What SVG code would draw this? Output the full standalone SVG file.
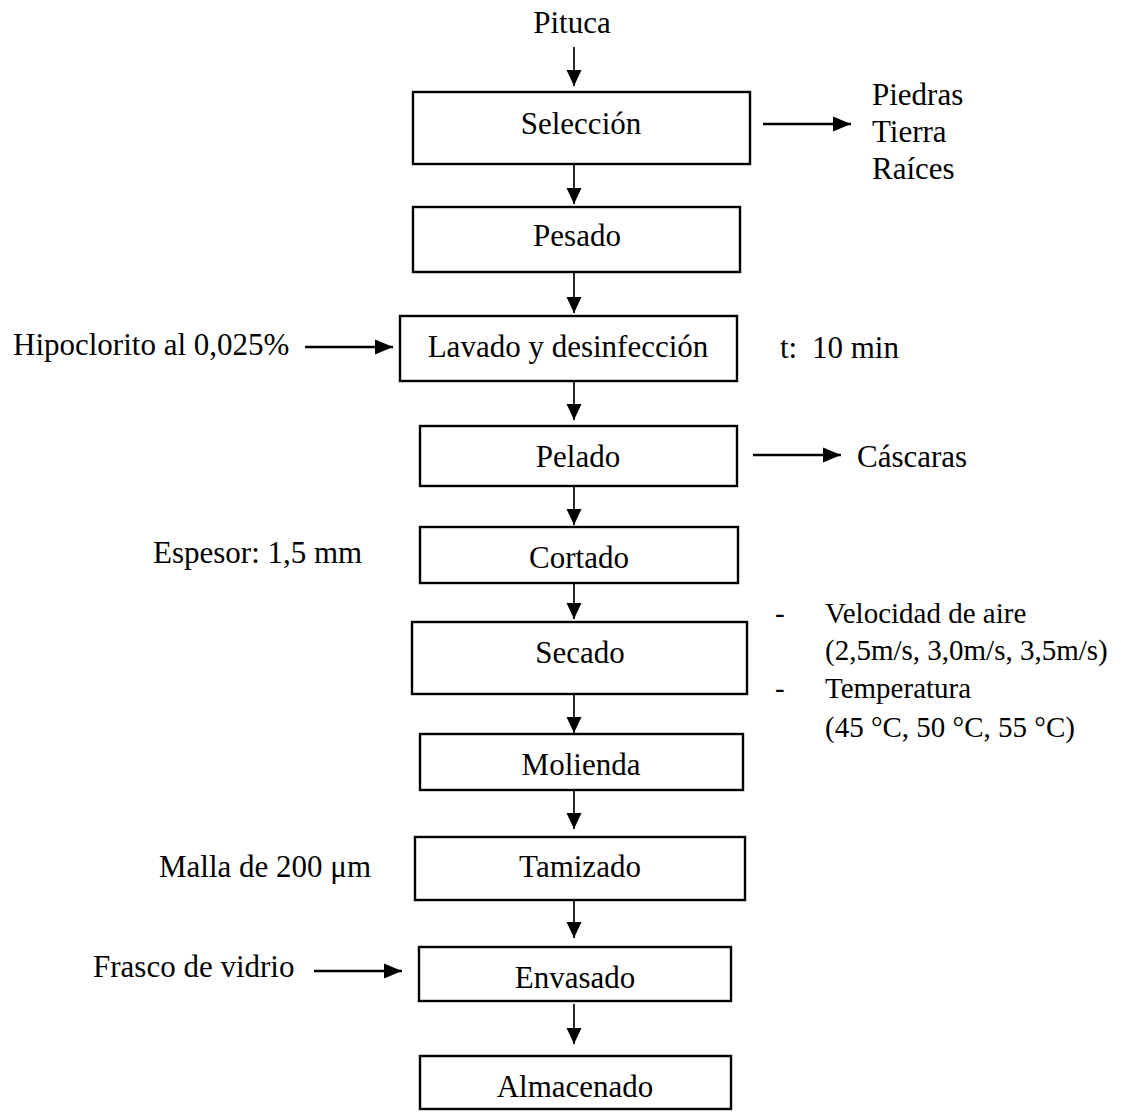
<svg xmlns="http://www.w3.org/2000/svg" width="1121" height="1112" viewBox="0 0 1121 1112">
<defs>
<marker id="ah" markerUnits="userSpaceOnUse" markerWidth="16" markerHeight="16" refX="16" refY="8" orient="auto">
<path d="M0,0.5 L16,8 L0,15.5 z" fill="#000"/>
</marker>
<marker id="ahh" markerUnits="userSpaceOnUse" markerWidth="18" markerHeight="16" refX="18" refY="8" orient="auto">
<path d="M0,0.5 L18,8 L0,15.5 z" fill="#000"/>
</marker>
<style>
text{font-family:"Liberation Serif","Times New Roman",serif;font-size:31px;fill:#000}
.c{text-anchor:middle}
.s{font-size:29px}
rect{fill:#fff;stroke:#000;stroke-width:2.4}
.conn line{stroke:#000;stroke-width:1.7;marker-end:url(#ah)}
.conn line.h{stroke-width:2.6;marker-end:url(#ahh)}
</style>
</defs>
<rect x="0" y="0" width="1121" height="1112" style="fill:#fff;stroke:none"/>

<g id="connectors" class="conn">
<line x1="574" y1="47" x2="574" y2="86"/>
<line x1="574" y1="164" x2="574" y2="204"/>
<line x1="574" y1="272" x2="574" y2="313"/>
<line x1="574" y1="381" x2="574" y2="420"/>
<line x1="574" y1="486" x2="574" y2="525"/>
<line x1="574" y1="583" x2="574" y2="619"/>
<line x1="574" y1="694" x2="574" y2="733"/>
<line x1="574" y1="790" x2="574" y2="829"/>
<line x1="574" y1="900" x2="574" y2="938"/>
<line x1="574" y1="1004" x2="574" y2="1044"/>
<line class="h" x1="763" y1="124" x2="851" y2="124"/>
<line class="h" x1="305" y1="347" x2="393" y2="347"/>
<line class="h" x1="753" y1="455" x2="841" y2="455"/>
<line class="h" x1="314" y1="971" x2="402" y2="971"/>
</g>

<g id="pituca"><text class="c" x="572" y="33">Pituca</text></g>

<g id="seleccion"><rect x="413" y="92" width="337" height="72"/><text class="c" x="581" y="134">Selección</text></g>
<g id="residuos"><text x="872" y="105">Piedras</text><text x="872" y="142">Tierra</text><text x="872" y="179">Raíces</text></g>

<g id="pesado"><rect x="413" y="207" width="327" height="65"/><text class="c" x="577" y="246">Pesado</text></g>

<g id="hipoclorito"><text x="13" y="355">Hipoclorito al 0,025%</text></g>
<g id="lavado"><rect x="400" y="316" width="337" height="65"/><text class="c" x="568" y="357">Lavado y desinfección</text></g>
<g id="tiempo"><text x="780" y="358">t:</text><text x="812" y="358">10 min</text></g>

<g id="pelado"><rect x="420" y="426" width="317" height="60"/><text class="c" x="578" y="467">Pelado</text></g>
<g id="cascaras"><text x="857" y="467">Cáscaras</text></g>

<g id="espesor"><text x="153" y="563">Espesor: 1,5 mm</text></g>
<g id="cortado"><rect x="420" y="527" width="318" height="56"/><text class="c" x="579" y="568">Cortado</text></g>

<g id="secado"><rect x="412" y="622" width="335" height="72"/><text class="c" x="580" y="663">Secado</text></g>
<g id="condiciones">
<text class="s" x="775" y="623">-</text><text class="s" x="825" y="623">Velocidad de aire</text>
<text class="s" x="825" y="660">(2,5m/s, 3,0m/s, 3,5m/s)</text>
<text class="s" x="775" y="698">-</text><text class="s" x="825" y="698">Temperatura</text>
<text class="s" x="825" y="737">(45 °C, 50 °C, 55 °C)</text>
</g>

<g id="molienda"><rect x="420" y="734" width="323" height="56"/><text class="c" x="581" y="775">Molienda</text></g>

<g id="malla"><text x="159" y="877">Malla de 200 μm</text></g>
<g id="tamizado"><rect x="415" y="837" width="330" height="63"/><text class="c" x="580" y="877">Tamizado</text></g>

<g id="frasco"><text x="93" y="977">Frasco de vidrio</text></g>
<g id="envasado"><rect x="419" y="947" width="312" height="54"/><text class="c" x="575" y="988">Envasado</text></g>

<g id="almacenado"><rect x="420" y="1056" width="311" height="53"/><text class="c" x="575" y="1097">Almacenado</text></g>
</svg>
